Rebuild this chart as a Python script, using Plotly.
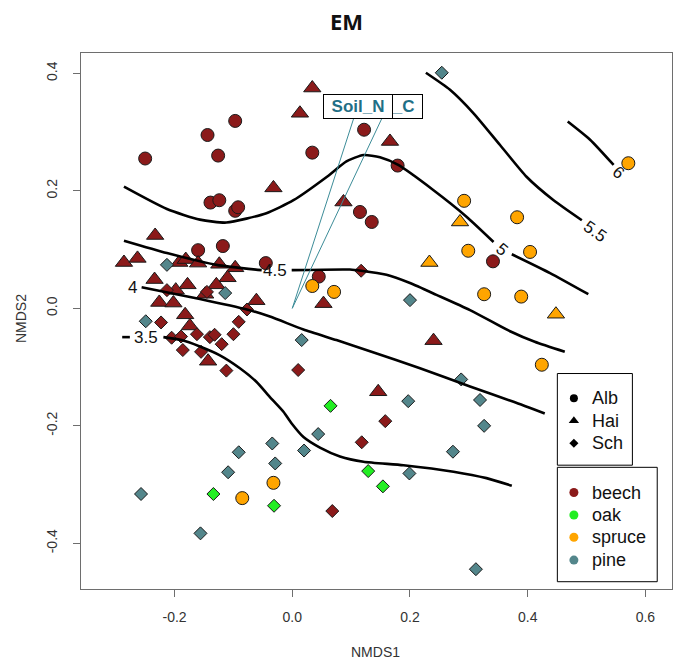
import plotly.graph_objects as go

# ---- NMDS site scores (NMDS1, NMDS2), grouped by tree species and region ----
beech_alb_x = [-0.250, -0.144, -0.097, -0.126, 0.034, -0.139, -0.124, -0.097, -0.092,
               -0.160, -0.118, -0.045, 0.045, 0.122, 0.179, 0.115, 0.135, 0.341]
beech_alb_y = [0.255, 0.295, 0.319, 0.260, 0.265, 0.180, 0.184, 0.166, 0.172,
               0.099, 0.106, 0.077, 0.054, 0.304, 0.243, 0.164, 0.147, 0.080]

beech_hai_x = [0.034, 0.013, -0.032, -0.233, 0.166, 0.087, 0.053, 0.240, 0.146,
               -0.286, -0.263, -0.192, -0.181, -0.160, -0.124, -0.097, -0.110, -0.129,
               -0.234, -0.178, -0.198, -0.226, -0.202, -0.148, -0.061, -0.182, -0.174, -0.143]
beech_hai_y = [0.375, 0.332, 0.205, 0.124, 0.284, 0.181, 0.008, -0.055, -0.142,
               0.078, 0.085, 0.078, 0.083, 0.077, 0.075, 0.069, 0.052, 0.040,
               0.049, 0.040, 0.031, 0.010, 0.009, 0.024, 0.013, -0.011, -0.030, -0.090]

beech_sch_x = [-0.213, -0.145, -0.223, -0.205, -0.189, -0.162, -0.140, -0.132, -0.120, -0.100,
               -0.091, -0.077, -0.186, -0.155, -0.112, 0.117, 0.010, 0.158, 0.118, 0.068]
beech_sch_y = [0.031, 0.028, -0.024, -0.050, -0.048, -0.044, -0.049, -0.045, -0.061, -0.044,
               -0.023, -0.002, -0.071, -0.074, -0.106, 0.064, -0.105, -0.192, -0.228, -0.345]

oak_sch_x = [0.065, 0.129, 0.154, -0.134, -0.031]
oak_sch_y = [-0.166, -0.277, -0.303, -0.316, -0.336]

pine_sch_x = [0.254, -0.213, -0.114, -0.249, 0.016, 0.200, 0.287, 0.319, 0.326, 0.197, 0.273,
              0.199, 0.312, 0.044, 0.020, -0.034, -0.029, -0.091, -0.109, -0.257, -0.156]
pine_sch_y = [0.401, 0.074, 0.026, -0.022, -0.054, 0.014, -0.121, -0.156, -0.200, -0.158, -0.244,
              -0.281, -0.444, -0.214, -0.242, -0.230, -0.264, -0.245, -0.279, -0.316, -0.383]

spruce_alb_x = [0.571, 0.292, 0.382, 0.299, 0.404, 0.326, 0.389, 0.034, 0.071, 0.424, -0.032, -0.085]
spruce_alb_y = [0.247, 0.183, 0.155, 0.098, 0.096, 0.024, 0.020, 0.038, 0.028, -0.096, -0.297, -0.323]

spruce_hai_x = [0.285, 0.233, 0.448]
spruce_hai_y = [0.147, 0.078, -0.010]

# ---- fitted surface (ordisurf) contour lines; None marks a break for a label ----
contour_levels = ["3.5", "4", "4.5", "5", "5.5", "6"]
contour_x = {
    "3.5": [-0.289, -0.276, None, -0.219, -0.188, -0.157, -0.123, -0.089, -0.061, -0.038,
            -0.015, -0.001, 0.019, 0.047, 0.081, 0.121, 0.189, 0.274, 0.330, 0.373],
    "4": [-0.256, -0.157, -0.077, -0.038, 0.019, 0.075, 0.132, 0.217, 0.302, 0.376, 0.429],
    "4.5": [-0.286, -0.213, -0.129, -0.052, None, -0.001, 0.098, 0.117, 0.160, 0.200,
            0.245, 0.302, 0.370, 0.412, 0.463],
    "5": [-0.286, -0.213, -0.157, -0.112, -0.044, 0.002, 0.059, 0.092, 0.121, 0.149,
          0.180, 0.240, 0.296, 0.342, None, 0.373, 0.438, 0.503],
    "5.5": [0.227, 0.268, 0.308, 0.353, 0.398, 0.444, 0.492],
    "6": [0.468, 0.506, 0.546],
}
contour_y = {
    "3.5": [-0.049, -0.049, None, -0.049, -0.054, -0.065, -0.080, -0.102, -0.125, -0.151,
            -0.176, -0.196, -0.219, -0.237, -0.252, -0.261, -0.267, -0.278, -0.289, -0.302],
    "4": [0.036, 0.016, -0.002, -0.014, -0.036, -0.054, -0.073, -0.102, -0.133, -0.159, -0.179],
    "4.5": [0.115, 0.094, 0.074, 0.065, None, 0.065, 0.066, 0.064, 0.057, 0.043,
            0.023, -0.003, -0.039, -0.057, -0.074],
    "5": [0.207, 0.169, 0.151, 0.146, 0.162, 0.184, 0.224, 0.250, 0.261, 0.257,
          0.244, 0.201, 0.156, 0.113, None, 0.092, 0.060, 0.024],
    "5.5": [0.401, 0.372, 0.332, 0.278, 0.224, 0.184, 0.150],
    "6": [0.318, 0.287, 0.244],
}
# label position (x, y) and rotation for each contour level
contour_label_pos = {
    "3.5": (-0.249, -0.049, 0),
    "4": (-0.271, 0.036, 0),
    "4.5": (-0.029, 0.064, 0),
    "5": (0.356, 0.100, 40),
    "5.5": (0.514, 0.130, 35),
    "6": (0.554, 0.232, 40),
}

# ---- envfit vectors ----
vector_names = ["Soil_C", "Soil_N"]
vector_x = [0.162, 0.111]
vector_y = [0.344, 0.344]

# ---- axes ----
x_ticks = [-0.2, 0.0, 0.2, 0.4, 0.6]
x_tick_labels = ["-0.2", "0.0", "0.2", "0.4", "0.6"]
y_ticks = [-0.4, -0.2, 0.0, 0.2, 0.4]
y_tick_labels = ["-0.4", "-0.2", "0.0", "0.2", "0.4"]

region_names = ["Alb", "Hai", "Sch"]
species_names = ["beech", "oak", "spruce", "pine"]

# ---- styles ----
COL = {"beech": "#8B1A1A", "oak": "#22EE22", "spruce": "#FFA500", "pine": "#53868B"}
SYM = {"Alb": "circle", "Hai": "triangle-up", "Sch": "diamond"}
SIZE = {"Alb": 13, "Hai": 15, "Sch": 10}
FONT = "Liberation Sans, Arial, sans-serif"
AXIS_GREY = "#6e6e6e"
ARROW_COL = "#3c8c98"
LABEL_COL = "#1f6f86"

fig = go.Figure()


def add_group(xs, ys, species, region):
    fig.add_trace(go.Scatter(
        x=xs, y=ys, mode="markers", showlegend=False, hoverinfo="skip",
        marker=dict(symbol=SYM[region], size=SIZE[region], color=COL[species],
                    line=dict(color="#1a1a1a", width=1)),
    ))


add_group(beech_alb_x, beech_alb_y, "beech", "Alb")
add_group(beech_hai_x, beech_hai_y, "beech", "Hai")
add_group(beech_sch_x, beech_sch_y, "beech", "Sch")
add_group(oak_sch_x, oak_sch_y, "oak", "Sch")
add_group(pine_sch_x, pine_sch_y, "pine", "Sch")
add_group(spruce_alb_x, spruce_alb_y, "spruce", "Alb")
add_group(spruce_hai_x, spruce_hai_y, "spruce", "Hai")

# contour lines of the fitted surface
for lev in contour_levels:
    fig.add_trace(go.Scatter(
        x=contour_x[lev], y=contour_y[lev], mode="lines", showlegend=False,
        hoverinfo="skip", connectgaps=False,
        line=dict(color="black", width=2.6, shape="spline", smoothing=0.6),
    ))

annotations = []
for lev in contour_levels:
    lx, ly, ang = contour_label_pos[lev]
    annotations.append(dict(x=lx, y=ly, xref="x", yref="y", text=lev, showarrow=False,
                            textangle=ang, font=dict(family=FONT, size=17, color="#111"),
                            xanchor="center", yanchor="middle"))

# envfit arrows from the origin
for vx, vy in zip(vector_x, vector_y):
    fig.add_trace(go.Scatter(
        x=[0, vx], y=[0, vy], mode="lines", showlegend=False, hoverinfo="skip",
        line=dict(color=ARROW_COL, width=1),
    ))

# vector labels in framed boxes (Soil_N drawn over Soil_C)
for name, vx, vy in zip(vector_names, vector_x, vector_y):
    annotations.append(dict(x=vx, y=vy, xref="x", yref="y", text="<b>%s</b>" % name,
                            showarrow=False, font=dict(family=FONT, size=17, color=LABEL_COL),
                            bgcolor="white", bordercolor="black", borderwidth=1,
                            borderpad=2, width=64, height=19,
                            xanchor="center", yanchor="middle"))

# ---- legend boxes (paper coordinates of the plot area) ----
LEG_SYM_X = 0.834
LEG_TXT_X = 0.862
region_rows = [0.356, 0.314, 0.272]
species_rows = [0.180, 0.138, 0.0965, 0.054]
shapes = [
    dict(type="rect", xref="paper", yref="paper", x0=0.806, x1=0.933, y0=0.231, y1=0.402,
         line=dict(color="black", width=1), fillcolor="white", layer="below"),
    dict(type="rect", xref="paper", yref="paper", x0=0.806, x1=0.975, y0=0.0136, y1=0.227,
         line=dict(color="black", width=1), fillcolor="white", layer="below"),
]
key_size = {"Alb": 8, "Hai": 9, "Sch": 7}
for name, row in zip(region_names, region_rows):
    fig.add_trace(go.Scatter(
        x=[LEG_SYM_X], y=[row], xaxis="x2", yaxis="y2", mode="markers",
        showlegend=False, hoverinfo="skip",
        marker=dict(symbol=SYM[name], size=key_size[name], color="black"),
    ))
    annotations.append(dict(x=LEG_TXT_X, y=row, xref="paper", yref="paper", text=name,
                            showarrow=False, xanchor="left", yanchor="middle",
                            font=dict(family=FONT, size=18, color="#111")))
for name, row in zip(species_names, species_rows):
    fig.add_trace(go.Scatter(
        x=[LEG_SYM_X], y=[row], xaxis="x2", yaxis="y2", mode="markers",
        showlegend=False, hoverinfo="skip",
        marker=dict(symbol="circle", size=9, color=COL[name]),
    ))
    annotations.append(dict(x=LEG_TXT_X, y=row, xref="paper", yref="paper", text=name,
                            showarrow=False, xanchor="left", yanchor="middle",
                            font=dict(family=FONT, size=18, color="#111")))

# title and axis titles
annotations += [
    dict(x=0.4484, y=1.0606, xref="paper", yref="paper", text="<b>EM</b>", showarrow=False,
         xanchor="center", yanchor="middle", font=dict(family="Open Sans, sans-serif", size=22, color="#111")),
    dict(x=0.4975, y=-0.117, xref="paper", yref="paper", text="NMDS1", showarrow=False,
         xanchor="center", yanchor="middle", font=dict(family=FONT, size=14, color="#333")),
    dict(x=-0.1015, y=0.5037, xref="paper", yref="paper", text="NMDS2", showarrow=False,
         textangle=-90, xanchor="center", yanchor="middle",
         font=dict(family=FONT, size=14, color="#333")),
]

axis_common = dict(showgrid=False, zeroline=False, showline=True, mirror=True,
                   linecolor=AXIS_GREY, linewidth=1.2, ticks="outside", ticklen=7,
                   tickcolor=AXIS_GREY, tickwidth=1.2,
                   tickfont=dict(family=FONT, size=14, color="#333"))

fig.update_layout(
    width=684, height=666,
    margin=dict(l=81, r=12, t=53, b=77),
    paper_bgcolor="white", plot_bgcolor="white",
    xaxis=dict(range=[-0.3590, 0.6452], tickvals=x_ticks, ticktext=x_tick_labels,
               ticklabelstandoff=8, **axis_common),
    yaxis=dict(range=[-0.4777, 0.4346], tickvals=y_ticks, ticktext=y_tick_labels,
               tickangle=-90, ticklabelstandoff=10, **axis_common),
    xaxis2=dict(range=[0, 1], overlaying="x", visible=False, fixedrange=True),
    yaxis2=dict(range=[0, 1], overlaying="y", visible=False, fixedrange=True),
    shapes=shapes,
    annotations=annotations,
    showlegend=False,
)

fig.write_html("out.html")
